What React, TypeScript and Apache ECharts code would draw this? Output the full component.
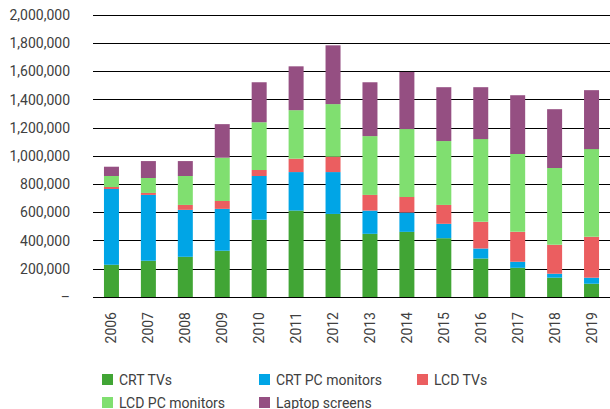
import React, { useEffect, useRef } from "react";
import * as echarts from "echarts";

const years = ["2006","2007","2008","2009","2010","2011","2012","2013","2014","2015","2016","2017","2018","2019"];
const crtTVs = [229000,257000,285000,328000,547000,613000,589000,448000,462000,417000,273000,207000,137000,94000];
const crtPCMonitors = [537000,467000,333000,297000,311000,273000,297000,165000,137000,102000,71000,43000,28000,43000];
const lcdTVs = [14000,14000,35000,56000,43000,95000,109000,111000,111000,134000,189000,212000,205000,290000];
const lcdPCMonitors = [78000,106000,205000,307000,339000,344000,373000,417000,481000,453000,587000,552000,545000,622000];
const laptopScreens = [66000,120000,106000,238000,283000,311000,417000,382000,405000,382000,368000,417000,417000,418000];

const seriesNames = ["CRT TVs","CRT PC monitors","LCD TVs","LCD PC monitors","Laptop screens"];
const seriesData = [crtTVs, crtPCMonitors, lcdTVs, lcdPCMonitors, laptopScreens];
const colors = ["#41A535","#00A5E6","#EB5E60","#80DF70","#954F82"];

const legendPos = [
  { left: 102, top: 371.5 },
  { left: 259, top: 371.5 },
  { left: 417, top: 371.5 },
  { left: 102, top: 394.5 },
  { left: 259, top: 394.5 },
];

const FONT = "Roboto, 'Liberation Sans', sans-serif";
const TXT = "#404040";

export default function App() {
  const ref = useRef<HTMLDivElement>(null);
  useEffect(() => {
    if (!ref.current) return;
    const chart = echarts.init(ref.current, null, { renderer: "svg" });
    chart.setOption({
      animation: false,
      color: colors,
      textStyle: { fontFamily: FONT },
      grid: { left: 93, right: -4, top: 15, bottom: 112, containLabel: false },
      legend: legendPos.map((p, i) => ({
        data: [seriesNames[i]],
        left: p.left,
        top: p.top,
        padding: 0,
        itemWidth: 11,
        itemHeight: 11,
        itemGap: 0,
        icon: "rect",
        selectedMode: false,
        textStyle: { fontFamily: FONT, fontSize: 14, color: TXT, lineHeight: 16, padding: [0, 0, 0, 1] },
      })),
      xAxis: {
        type: "category",
        data: years,
        axisTick: { show: false },
        axisLine: { show: false },
        axisLabel: { rotate: 90, margin: 15, fontSize: 14, color: TXT, fontFamily: FONT },
      },
      yAxis: {
        type: "value",
        min: 0,
        max: 2000000,
        interval: 200000,
        axisLine: { show: false },
        axisTick: { show: false },
        splitLine: { lineStyle: { color: "#000000", width: 1 } },
        axisLabel: {
          margin: 23,
          fontSize: 14,
          color: TXT,
          fontFamily: FONT,
          formatter: (v: number) => (v === 0 ? "–" : v.toLocaleString("en-US")),
        },
      },
      series: seriesNames.map((name, i) => ({
        name,
        type: "bar",
        stack: "total",
        barWidth: 15,
        data: seriesData[i],
        itemStyle: { color: colors[i] },
      })),
    });
    return () => chart.dispose();
  }, []);
  return <div ref={ref} style={{ position: "absolute", left: 0, top: 0, width: 610, height: 409 }} />;
}
